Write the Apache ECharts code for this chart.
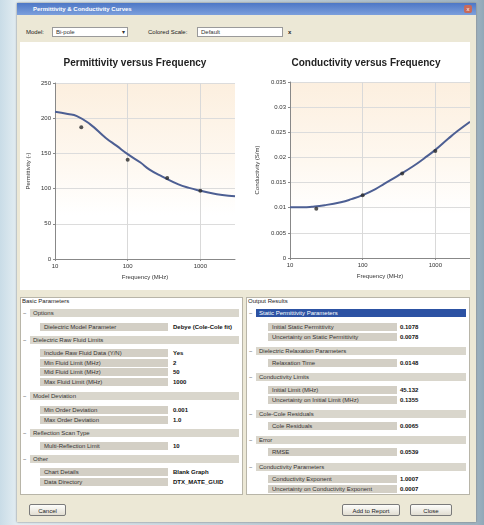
<!DOCTYPE html>
<html><head><meta charset="utf-8">
<script src="https://cdn.jsdelivr.net/npm/echarts@6/dist/echarts.min.js"></script>
<style>
html,body{margin:0;padding:0;width:484px;height:525px;overflow:hidden;font-family:"Liberation Sans",Arial,sans-serif;}
#bg{position:absolute;left:0;top:0;width:484px;height:525px;background:linear-gradient(90deg,#c9dce7 0px,#e3edf2 17px,#9fb3c1 476px,#90a8b8 484px);}
#dlg{position:absolute;left:17px;top:3px;width:459px;height:519px;background:#ece8d6;box-shadow:0 0 2px #777;}
#titlebar{position:absolute;left:0;top:0;width:459px;height:12px;background:linear-gradient(#4d77c6,#7c9fdc);color:#fff;font-size:6px;line-height:12px;}
#titlebar span{position:absolute;left:16px;font-weight:bold;}
#closeb{position:absolute;right:4px;top:2px;width:8px;height:8px;background:#c86a5a;border-radius:2px;color:#fff;font-size:6px;line-height:8px;text-align:center;}
.lbl{position:absolute;font-size:6px;color:#222;}
.box{position:absolute;background:#fff;border:1px solid #9a9a9a;font-size:6px;line-height:8px;color:#333;padding-left:3px;box-sizing:border-box;}
#chartpanel{position:absolute;left:3px;top:39px;width:450px;height:248px;background:#fff;}
#chart{position:absolute;left:0;top:0;width:450px;height:248px;}
.panel{position:absolute;background:#fff;border:1px solid #b8b5a8;box-sizing:border-box;overflow:hidden;}
.hdr{position:absolute;font-size:6px;color:#222;}
.grp{position:absolute;height:8px;background:#d9d6cc;font-size:6px;line-height:8px;color:#333;}
.grp.sel{background:#2c52a3;color:#fff;}
.exp{position:absolute;font-size:6px;line-height:8px;color:#555;}
.pn{position:absolute;height:8px;background:#d3cfc5;font-size:6px;line-height:8px;color:#333;padding-left:4px;box-sizing:border-box;}
.pv{position:absolute;height:8px;font-size:6px;line-height:8px;color:#111;font-weight:bold;}
.btn{position:absolute;height:12px;border:1px solid #7a7a7a;border-radius:2px;background:linear-gradient(#fdfdfb,#e2ded2);font-size:6px;line-height:12px;text-align:center;color:#222;box-sizing:border-box;}
</style></head>
<body>
<div id="bg"></div>
<div id="dlg">
  <div id="titlebar"><span>Permittivity &amp; Conductivity Curves</span><div id="closeb">x</div></div>
  <div class="lbl" style="left:9px;top:26px;">Model:</div>
  <div class="box" style="left:35px;top:24px;width:76px;height:10px;">Bi-pole<span style="position:absolute;right:2px;top:0;">▾</span></div>
  <div class="lbl" style="left:131px;top:26px;">Colored Scale:</div>
  <div class="box" style="left:180px;top:24px;width:86px;height:10px;">Default</div>
  <div class="lbl" style="left:271px;top:26px;font-weight:bold;">x</div>
  <div id="chartpanel"><div id="chart"></div></div>
  <div id="panels"></div>
  <div class="btn" style="left:12px;top:501px;width:37px;">Cancel</div>
  <div class="btn" style="left:325px;top:501px;width:58px;">Add to Report</div>
  <div class="btn" style="left:393px;top:501px;width:42px;">Close</div>
</div>
<script>
// ---------- chart data ----------
const chartTitles = ['Permittivity versus Frequency', 'Conductivity versus Frequency'];
const xAxisName = 'Frequency (MHz)';
const yAxisNames = ['Permittivity (-)', 'Conductivity (S/m)'];
const xTickLabels = ['10', '100', '1000'];
const curveFreq = [10, 15, 20, 30, 50, 70, 100, 150, 200, 300, 500, 700, 1000, 1500, 2000, 3000];
const permCurve = [209, 206, 203, 192, 172, 161, 149, 137, 127, 117, 106, 101, 97, 93, 91, 89];
const condCurve = [0.0101, 0.0101, 0.0102, 0.0105, 0.0111, 0.0117, 0.0125, 0.0137, 0.0148, 0.0163, 0.0183, 0.0198, 0.0215, 0.0237, 0.0252, 0.0271];
const measFreq = [23, 100, 350, 1000];
const permMeas = [187, 141, 115, 97];
const condMeas = [0.0098, 0.0125, 0.0168, 0.0213];

// ---------- property grid texts ----------
const leftRows = [
  ['h', 'Basic Parameters', 303],
  ['g', 'Options', 313],
  ['p', 'Dielectric Model Parameter', 'Debye (Cole-Cole fit)', 327],
  ['g', 'Dielectric Raw Fluid Limits', 340],
  ['p', 'Include Raw Fluid Data (Y/N)', 'Yes', 353],
  ['p', 'Min Fluid Limit (MHz)', '2', 363],
  ['p', 'Mid Fluid Limit (MHz)', '50', 372],
  ['p', 'Max Fluid Limit (MHz)', '1000', 382],
  ['g', 'Model Deviation', 396],
  ['p', 'Min Order Deviation', '0.001', 410],
  ['p', 'Max Order Deviation', '1.0', 420],
  ['g', 'Reflection Scan Type', 433],
  ['p', 'Multi-Reflection Limit', '10', 446],
  ['g', 'Other', 459],
  ['p', 'Chart Details', 'Blank Graph', 472],
  ['p', 'Data Directory', 'DTX_MATE_GUID', 482]
];
const rightRows = [
  ['h', 'Output Results', 303],
  ['s', 'Static Permittivity Parameters', 313],
  ['p', 'Initial Static Permittivity', '0.1078', 327],
  ['p', 'Uncertainty on Static Permittivity', '0.0078', 337],
  ['g', 'Dielectric Relaxation Parameters', 351],
  ['p', 'Relaxation Time', '0.0148', 363],
  ['g', 'Conductivity Limits', 377],
  ['p', 'Initial Limit (MHz)', '45.132', 390],
  ['p', 'Uncertainty on Initial Limit (MHz)', '0.1355', 400],
  ['g', 'Cole-Cole Residuals', 414],
  ['p', 'Cole Residuals', '0.0065', 426],
  ['g', 'Error', 440],
  ['p', 'RMSE', '0.0539', 452],
  ['g', 'Conductivity Parameters', 467],
  ['p', 'Conductivity Exponent', '1.0007', 479],
  ['p', 'Uncertainty on Conductivity Exponent', '0.0007', 489]
];

function buildPanel(rows, x0, w, nameL, nameW, valL) {
  const dx = 17, dy = 3;
  let html = '<div class="panel" style="left:' + (x0 - dx) + 'px;top:' + (297 - dy) + 'px;width:' + w + 'px;height:' + 198 + 'px;"></div>';
  rows.forEach(r => {
    const t = r[0];
    const y = r[r.length - 1] - 4 - dy;
    if (t === 'h') {
      html += '<div class="hdr" style="left:' + (x0 - dx + 2) + 'px;top:' + (y - 1) + 'px;">' + r[1] + '</div>';
    } else if (t === 'g' || t === 's') {
      html += '<div class="exp" style="left:' + (x0 - dx + 3) + 'px;top:' + y + 'px;">−</div>';
      html += '<div class="grp' + (t === 's' ? ' sel' : '') + '" style="left:' + (x0 - dx + 10) + 'px;top:' + y + 'px;width:' + (w - 14) + 'px;padding-left:3px;box-sizing:border-box;">' + r[1] + '</div>';
    } else {
      html += '<div class="pn" style="left:' + (nameL - dx) + 'px;top:' + y + 'px;width:' + nameW + 'px;">' + r[1] + '</div>';
      html += '<div class="pv" style="left:' + (valL - dx) + 'px;top:' + y + 'px;">' + r[2] + '</div>';
    }
  });
  return html;
}
document.getElementById('panels').innerHTML =
  buildPanel(leftRows, 20, 223, 40, 128, 173) +
  buildPanel(rightRows, 246, 224, 268, 129, 400);

// ---------- chart ----------
const chart = echarts.init(document.getElementById('chart'), null, {renderer: 'canvas'});
const plotBg = {type: 'linear', x: 0, y: 0, x2: 0, y2: 1,
  colorStops: [{offset: 0, color: '#fcefdf'}, {offset: 0.45, color: '#fef8f0'}, {offset: 0.75, color: '#ffffff'}, {offset: 1, color: '#ffffff'}]};
const axisFont = {fontSize: 6, color: '#333', fontFamily: 'Liberation Sans'};
function xAxis(gi) {
  return {
    type: 'log', logBase: 10, min: 10, max: 3000, gridIndex: gi,
    name: xAxisName, nameLocation: 'middle', nameGap: 14,
    nameTextStyle: {fontSize: 6, color: '#333'},
    axisLine: {lineStyle: {color: '#888', width: 1}},
    axisTick: {show: true, length: 2, lineStyle: {color: '#888'}},
    axisLabel: Object.assign({margin: 4, showMaxLabel: false,
      formatter: v => xTickLabels.includes(String(Math.round(v))) ? String(Math.round(v)) : ''}, axisFont),
    splitLine: {show: true, showMaxLine: false, lineStyle: {color: '#d9d9d9', width: 1}},
    minorTick: {show: false}
  };
}
function yAxis(gi, max, interval, name, gap) {
  return {
    type: 'value', gridIndex: gi, min: 0, max: max, interval: interval,
    name: name, nameLocation: 'middle', nameGap: gap, nameRotate: 90,
    nameTextStyle: {fontSize: 6, color: '#333'},
    axisLine: {show: true, lineStyle: {color: '#888', width: 1}},
    axisTick: {show: true, length: 2, lineStyle: {color: '#888'}},
    axisLabel: Object.assign({margin: 4}, axisFont),
    splitLine: {show: true, lineStyle: {color: '#dcdcdc', width: 1}}
  };
}
const lineStyle = {color: '#4d5f93', width: 2};
const marker = {color: '#2a2a2a'};
chart.setOption({
  animation: false,
  backgroundColor: '#ffffff',
  title: [
    {text: chartTitles[0], left: 110, top: 11, textAlign: 'center',
      textStyle: {fontSize: 10, fontWeight: 'bold', color: '#222', fontFamily: 'Liberation Sans'}},
    {text: chartTitles[1], left: 341, top: 11, textAlign: 'center',
      textStyle: {fontSize: 10, fontWeight: 'bold', color: '#222', fontFamily: 'Liberation Sans'}}
  ],
  grid: [
    {left: 35, top: 41, width: 180, height: 176, show: true, backgroundColor: plotBg, borderWidth: 0},
    {left: 270, top: 40, width: 180, height: 176, show: true, backgroundColor: plotBg, borderWidth: 0}
  ],
  xAxis: [xAxis(0), xAxis(1)],
  yAxis: [yAxis(0, 250, 50, yAxisNames[0], 24), yAxis(1, 0.035, 0.005, yAxisNames[1], 30)],
  series: [
    {type: 'line', xAxisIndex: 0, yAxisIndex: 0, smooth: true, showSymbol: false,
      data: curveFreq.map((f, i) => [f, permCurve[i]]), lineStyle: lineStyle, z: 2},
    {type: 'scatter', xAxisIndex: 0, yAxisIndex: 0, symbolSize: 4,
      data: measFreq.map((f, i) => [f, permMeas[i]]), itemStyle: marker, z: 3},
    {type: 'line', xAxisIndex: 1, yAxisIndex: 1, smooth: true, showSymbol: false,
      data: curveFreq.map((f, i) => [f, condCurve[i]]), lineStyle: lineStyle, z: 2},
    {type: 'scatter', xAxisIndex: 1, yAxisIndex: 1, symbolSize: 4,
      data: measFreq.map((f, i) => [f, condMeas[i]]), itemStyle: marker, z: 3}
  ]
});
</script>
</body></html>
